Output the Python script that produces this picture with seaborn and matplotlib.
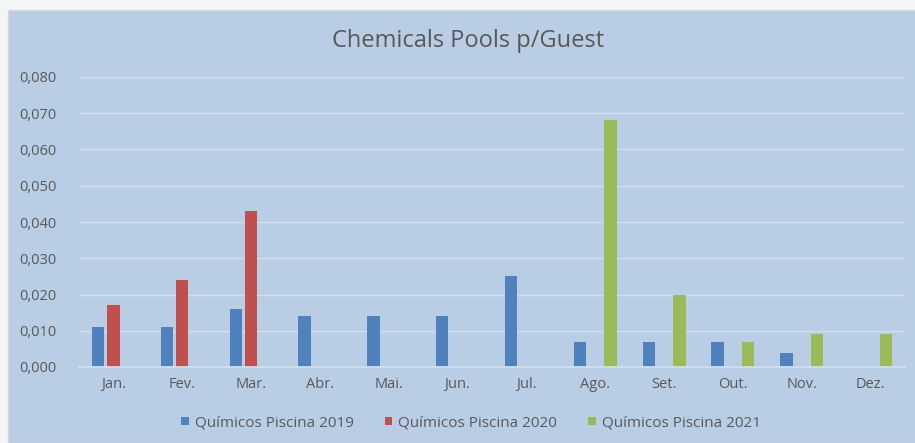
import numpy as np
import pandas as pd
import matplotlib
matplotlib.use("Agg")
import matplotlib.pyplot as plt
import seaborn as sns
from matplotlib.patches import Rectangle
from matplotlib.ticker import FuncFormatter, MultipleLocator

months = ["Jan.", "Fev.", "Mar.", "Abr.", "Mai.", "Jun.", "Jul.", "Ago.", "Set.", "Out.", "Nov.", "Dez."]
series_names = ["Químicos Piscina 2019", "Químicos Piscina 2020", "Químicos Piscina 2021"]
vals_2019 = [0.011, 0.011, 0.016, 0.014, 0.014, 0.014, 0.025, 0.007, 0.007, 0.007, 0.004, None]
vals_2020 = [0.017, 0.024, 0.043, None, None, None, None, None, None, None, None, None]
vals_2021 = [None, None, None, None, None, None, None, 0.068, 0.020, 0.007, 0.009, 0.009]
colors = ["#4F81BD", "#C0504D", "#9BBB59"]
title = "Chemicals Pools p/Guest"

rows = []
for name, vals in zip(series_names, [vals_2019, vals_2020, vals_2021]):
    for m, v in zip(months, vals):
        if v is not None:
            rows.append({"Mês": m, "Série": name, "Valor": v})
df = pd.DataFrame(rows)

sns.set_theme(style="white")
plt.rcParams["font.family"] = ["Open Sans", "DejaVu Sans"]

BG = "#B9CDE5"
TXT = "#595959"
GRID = "#D3DFEE"

fig = plt.figure(figsize=(9.15, 4.43), dpi=100, facecolor="#F4F5F7")
fig.patches.append(Rectangle((8 / 915, 0), 1, 1 - 10 / 443, transform=fig.transFigure,
                             facecolor=BG, edgecolor="#D9D9D9", lw=1, zorder=-10))
ax = fig.add_axes([79 / 915, 1 - 367 / 443, (905 - 79) / 915, (367 - 77) / 443])
ax.set_facecolor("none")

sns.barplot(data=df, x="Mês", y="Valor", hue="Série", order=months, hue_order=series_names,
            palette=colors, width=0.67, gap=0.2, ax=ax, errorbar=None, saturation=1, legend=True,
            linewidth=0)

ax.set_ylim(0, 0.08)
ax.set_xlim(-0.5, 11.5)
ax.yaxis.set_major_locator(MultipleLocator(0.01))
ax.yaxis.set_major_formatter(FuncFormatter(lambda v, p: f"{v:.3f}".replace(".", ",")))
ax.grid(axis="y", color=GRID, lw=1)
ax.set_axisbelow(True)
for s in ["top", "right", "left"]:
    ax.spines[s].set_visible(False)
ax.spines["bottom"].set_color(GRID)
ax.set_xlabel("")
ax.set_ylabel("")
ax.tick_params(axis="both", length=0, colors=TXT, labelsize=10.5)
ax.tick_params(axis="y", pad=16)
ax.tick_params(axis="x", pad=7)

fig.text(0.511, 1 - 41 / 443, title, ha="center", va="center", fontsize=17, color=TXT)

h, l = ax.get_legend_handles_labels()
ax.legend_.remove()
for hh in h:
    hh.set_edgecolor("none")
fig.legend(h, l, loc="center", bbox_to_anchor=(471 / 915, 1 - 423 / 443), ncol=3, frameon=False,
           fontsize=11, labelcolor=TXT, handlelength=0.5, handleheight=0.5, handletextpad=0.4,
           columnspacing=2.0)

fig.savefig("out.png", dpi=100, facecolor=fig.get_facecolor())
